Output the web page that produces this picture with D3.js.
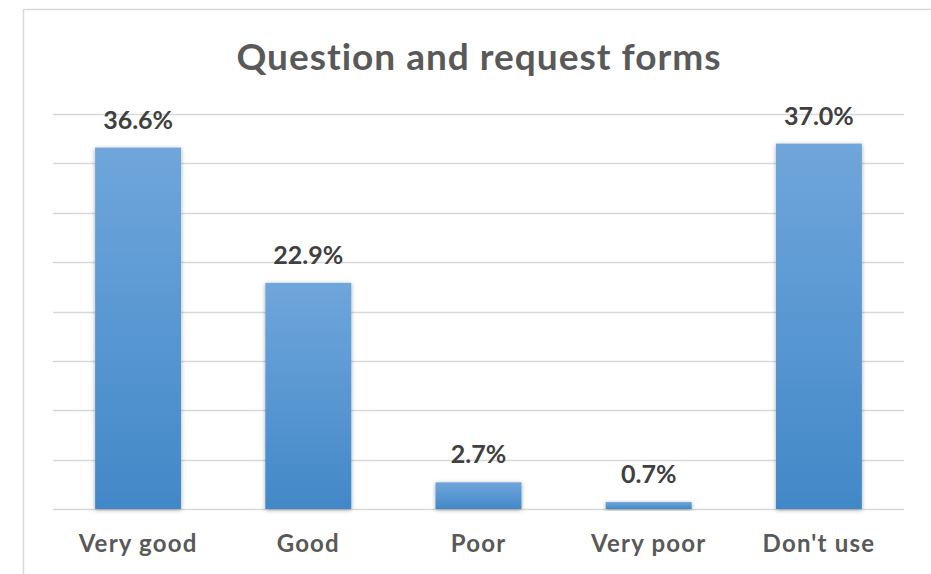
<!DOCTYPE html>
<html><head><meta charset="utf-8">
<script src="https://cdn.jsdelivr.net/npm/d3@7"></script>
<style>html,body{margin:0;padding:0;background:#fff;}svg{display:block;}</style>
</head><body>
<svg id="chart" width="931" height="574"></svg>
<script>
const categories = ["Very good", "Good", "Poor", "Very poor", "Don't use"];
const values = [36.6, 22.9, 2.7, 0.7, 37.0];
const valueLabels = ["36.6%", "22.9%", "2.7%", "0.7%", "37.0%"];
const yTicks = [0, 5, 10, 15, 20, 25, 30, 35, 40];
const title = "Question and request forms";

(function () {
const svg = d3.select("#chart");
const font = "Lato, 'Open Sans', sans-serif";
const plotLeft = 53, plotRight = 904, plotTop = 114, plotBottom = 509;

const defs = svg.append("defs");
const grad = defs.append("linearGradient").attr("id", "barGrad").attr("x1", 0).attr("y1", 0).attr("x2", 0).attr("y2", 1);
grad.append("stop").attr("offset", "0%").attr("stop-color", "#6fa6db");
grad.append("stop").attr("offset", "100%").attr("stop-color", "#4288c8");
const f = defs.append("filter").attr("id", "shadow").attr("x", "-20%").attr("y", "-20%").attr("width", "140%").attr("height", "140%");
f.append("feDropShadow").attr("dx", 0).attr("dy", 1).attr("stdDeviation", 2).attr("flood-color", "#000").attr("flood-opacity", 0.35);

svg.append("rect").attr("x", 23.5).attr("y", 9.5).attr("width", 1000).attr("height", 1000)
  .attr("fill", "none").attr("stroke", "#d9d9d9").attr("stroke-width", 1.5);

const x = d3.scaleBand().domain(categories).range([plotLeft, plotRight]).paddingInner(0.495).paddingOuter(0.2475);
const y = d3.scaleLinear().domain([0, 40]).range([plotBottom, plotTop]);

svg.append("g").selectAll("line").data(yTicks).join("line")
  .attr("x1", plotLeft).attr("x2", plotRight)
  .attr("y1", d => Math.round(y(d)) + 0.5).attr("y2", d => Math.round(y(d)) + 0.5)
  .attr("stroke", "#d9d9d9").attr("stroke-width", 1.5);

svg.append("g").selectAll("rect").data(values).join("rect")
  .attr("x", (d, i) => x(categories[i]))
  .attr("width", x.bandwidth())
  .attr("y", d => y(d))
  .attr("height", d => y(0) - y(d))
  .attr("fill", "url(#barGrad)")
  .attr("filter", "url(#shadow)");

svg.append("g").selectAll("text").data(values).join("text")
  .attr("x", (d, i) => x(categories[i]) + x.bandwidth() / 2)
  .attr("y", d => y(d) - 19)
  .attr("text-anchor", "middle")
  .attr("font-family", font).attr("font-weight", "bold").attr("font-size", 25)
  .attr("fill", "#404040")
  .text((d, i) => valueLabels[i]);

svg.append("g").selectAll("text").data(categories).join("text")
  .attr("x", d => x(d) + x.bandwidth() / 2)
  .attr("y", 552)
  .attr("text-anchor", "middle")
  .attr("font-family", font).attr("font-weight", "bold").attr("font-size", 24)
  .attr("letter-spacing", 1.2)
  .attr("fill", "#595959")
  .text(d => d);

svg.append("text").attr("x", 479).attr("y", 70).attr("text-anchor", "middle")
  .attr("font-family", font).attr("font-weight", "bold").attr("font-size", 37)
  .attr("letter-spacing", 1)
  .attr("fill", "#595959").text(title);
})();
</script>
</body></html>
